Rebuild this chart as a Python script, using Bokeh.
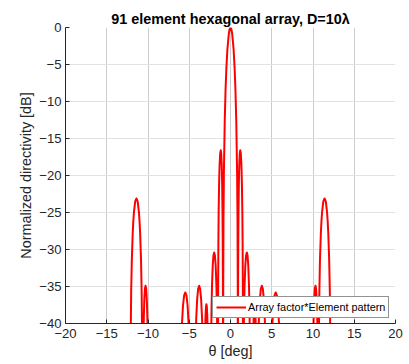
from bokeh.plotting import figure
from bokeh.models import FixedTicker, Legend, LegendItem
from bokeh.embed import file_html
from bokeh.resources import INLINE

# Curve (theta in degrees, directivity in dB); nulls dip far below -40
theta_deg = [
    -20, -12.15, -12.09, -12.04, -11.96, -11.85, -11.775, -11.7, -11.55, -11.4, -11.252, -11.104, -11.03, -10.956, -10.845, -10.771, -10.719,
    -10.66, -10.57, -10.516, -10.444, -10.372, -10.3, -10.224, -10.148, -10.072, -10.015, -9.92,
    -6.18, -6.005, -5.9, -5.76, -5.62, -5.48, -5.34, -5.2, -5.06, -4.955, -4.78,
    -4.4, -4.25, -4.16, -4.04, -3.92, -3.8, -3.68, -3.56, -3.44, -3.35, -3.2,
    -3.088, -3.032, -2.976, -2.92, -2.864, -2.808, -2.752, -2.64,
    -2.42, -2.354, -2.31, -2.244, -2.156, -2.068, -1.98, -1.888, -1.796, -1.704, -1.635, -1.589, -1.52,
    -1.51, -1.493, -1.469, -1.435, -1.384, -1.35, -1.316, -1.248, -1.18, -1.124, -1.068, -1.04, -1.012, -0.97, -0.942, -0.922, -0.908, -0.9,
    -0.88, -0.85, -0.8, -0.7, -0.6, -0.5, -0.38, -0.2, -0.1, 0,
    0.1, 0.2, 0.38, 0.5, 0.6, 0.7, 0.8, 0.85, 0.88, 0.9,
    0.908, 0.922, 0.942, 0.97, 1.012, 1.04, 1.068, 1.124, 1.18, 1.248, 1.316, 1.35, 1.384, 1.435, 1.469, 1.493, 1.51, 1.52,
    1.589, 1.635, 1.704, 1.796, 1.888, 1.98, 2.068, 2.156, 2.244, 2.31, 2.354, 2.42,
    2.64, 2.752, 2.808, 2.864, 2.92, 2.976, 3.032, 3.088, 3.2,
    3.35, 3.44, 3.56, 3.68, 3.8, 3.92, 4.04, 4.16, 4.25, 4.4,
    4.78, 4.955, 5.06, 5.2, 5.34, 5.48, 5.62, 5.76, 5.9, 6.005, 6.18,
    9.92, 10.015, 10.072, 10.148, 10.224, 10.3, 10.372, 10.444, 10.516, 10.57, 10.66,
    10.719, 10.771, 10.845, 10.956, 11.03, 11.104, 11.252, 11.4, 11.55, 11.7, 11.775, 11.85, 11.96, 12.04, 12.09, 12.15, 20,
]
directivity_db = [
    -80, -80, -41.1, -35.7, -31.4, -27.7, -26.1, -24.9, -23.5, -23.1, -23.5, -24.9, -26.1, -27.7, -31.4, -35.7, -41.1,
    -80, -43.2, -39.5, -36.7, -35.3, -34.9, -35.3, -36.7, -39.5, -43.2, -80,
    -80, -44.1, -40.4, -37.6, -36.2, -35.8, -36.2, -37.6, -40.4, -44.1, -80,
    -80, -43.2, -39.5, -36.7, -35.3, -34.9, -35.3, -36.7, -39.5, -43.2, -80,
    -42.0, -39.2, -37.8, -37.4, -37.8, -39.2, -42.0, -80,
    -80, -43.0, -38.7, -35.0, -32.2, -30.8, -30.4, -30.8, -32.2, -35.0, -38.7, -43.0, -80,
    -43.1, -34.6, -29.2, -24.9, -21.2, -19.6, -18.4, -17.0, -16.6, -17.0, -18.4, -19.6, -21.2, -24.9, -29.2, -34.6, -43.1, -80,
    -34.6, -26.0, -19.6, -12.7, -8.4, -5.5, -3.0, -0.8, -0.2, 0,
    -0.2, -0.8, -3.0, -5.5, -8.4, -12.7, -19.6, -26.0, -34.6, -80,
    -43.1, -34.6, -29.2, -24.9, -21.2, -19.6, -18.4, -17.0, -16.6, -17.0, -18.4, -19.6, -21.2, -24.9, -29.2, -34.6, -43.1, -80,
    -43.0, -38.7, -35.0, -32.2, -30.8, -30.4, -30.8, -32.2, -35.0, -38.7, -43.0, -80,
    -80, -42.0, -39.2, -37.8, -37.4, -37.8, -39.2, -42.0, -80,
    -43.2, -39.5, -36.7, -35.3, -34.9, -35.3, -36.7, -39.5, -43.2, -80,
    -80, -44.1, -40.4, -37.6, -36.2, -35.8, -36.2, -37.6, -40.4, -44.1, -80,
    -80, -43.2, -39.5, -36.7, -35.3, -34.9, -35.3, -36.7, -39.5, -43.2, -80,
    -41.1, -35.7, -31.4, -27.7, -26.1, -24.9, -23.5, -23.1, -23.5, -24.9, -26.1, -27.7, -31.4, -35.7, -41.1, -80, -80,
]
assert len(theta_deg) == len(directivity_db)

x_ticks = [-20, -15, -10, -5, 0, 5, 10, 15, 20]
y_ticks = [-40, -35, -30, -25, -20, -15, -10, -5, 0]
title_text = "91 element hexagonal array, D=10\u03bb"
x_label = "\u03b8 [deg]"
y_label = "Normalized directivity [dB]"
legend_label = "Array factor*Element pattern"

FONT = "Liberation Sans"
DARK = "#262626"

p = figure(width=407, height=362, x_range=(-20, 20), y_range=(-40, 0),
           output_backend="svg", toolbar_location=None,
           min_border_left=65, min_border_right=12, min_border_top=27, min_border_bottom=39)
p.outline_line_color = None
p.background_fill_color = "white"
p.border_fill_color = "white"

p.title.text = title_text
p.title.align = "center"
p.title.text_font = FONT
p.title.text_font_size = "14.4px"
p.title.text_font_style = "bold"
p.title.text_color = "black"
p.title.standoff = 2

for ax, ticks, lab in ((p.xaxis[0], x_ticks, x_label), (p.yaxis[0], y_ticks, y_label)):
    ax.ticker = FixedTicker(ticks=ticks)
    ax.axis_label = lab
    ax.axis_label_text_font = FONT
    ax.axis_label_text_font_size = "14.4px"
    ax.axis_label_text_font_style = "normal"
    ax.axis_label_text_color = DARK
    ax.major_label_text_font = FONT
    ax.major_label_text_font_size = "13.1px"
    ax.major_label_text_color = DARK
    ax.axis_line_color = DARK
    ax.major_tick_line_color = DARK
    ax.major_tick_in = 4
    ax.major_tick_out = 0
    ax.minor_tick_line_color = None

p.xaxis.major_label_standoff = 5
p.xaxis.axis_label_standoff = 2
p.yaxis.major_label_standoff = 4
p.yaxis.axis_label_standoff = 2

p.xgrid.ticker = FixedTicker(ticks=x_ticks)
p.ygrid.ticker = FixedTicker(ticks=y_ticks)
p.xgrid.grid_line_color = "#cccccc"
p.ygrid.grid_line_color = "#e2e2e2"

r = p.line(theta_deg, directivity_db, line_color="#ff0000", line_width=2, line_join="round")

legend = Legend(items=[LegendItem(label=legend_label, renderers=[r])], location=(147, 5))
legend.label_text_font = FONT
legend.label_text_font_size = "10.9px"
legend.label_text_color = "black"
legend.border_line_color = DARK
legend.border_line_width = 1
legend.background_fill_color = "white"
legend.background_fill_alpha = 1
legend.padding = 3
legend.margin = 0
legend.spacing = 0
legend.glyph_width = 30
legend.glyph_height = 14
legend.label_standoff = 2
legend.label_height = 14
legend.label_width = 136
p.add_layout(legend)

open("out.html", "w").write(file_html(p, INLINE))
